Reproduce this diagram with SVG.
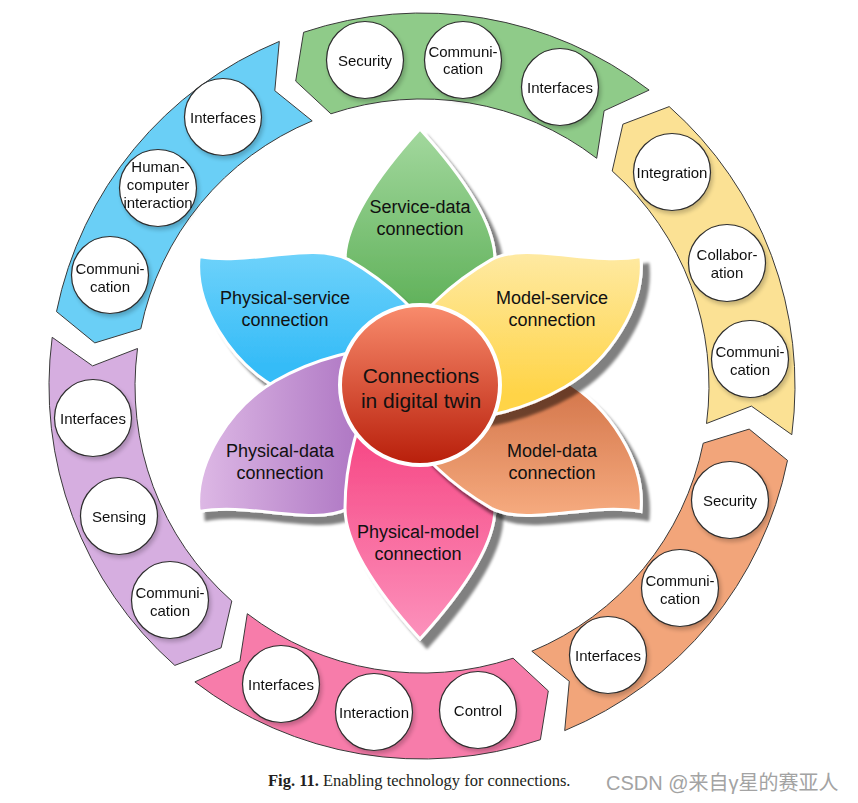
<svg xmlns="http://www.w3.org/2000/svg" width="858" height="803" viewBox="0 0 858 803">
<defs>
<style>
.seg{stroke:#3a3a3a;stroke-width:1}
.bub{fill:#fff;stroke:#2e2e2e;stroke-width:1.2}
.bt{font-family:"Liberation Sans",Arial,sans-serif;font-size:15px;fill:#111;text-anchor:middle}
.pt{font-family:"Liberation Sans",Arial,sans-serif;font-size:18px;fill:#111;text-anchor:middle}
.petal{stroke:#fff;stroke-width:3}
</style>
<path id="leaf" d="M255,0 C222,30 168,75 124,75 C80,75 30,62 0,40 L0,-40 C30,-62 80,-75 124,-75 C168,-75 222,-30 255,0 Z"/>
<path id="leafA" d="M255,0 C235,45 175,75 124,75 C80,75 30,62 0,40 L0,-40 C30,-62 80,-72 124,-72 C165,-70 205,-18 255,0 Z"/>
<path id="leafB" d="M255,0 C235,-45 175,-75 124,-75 C80,-75 30,-62 0,-40 L0,40 C30,62 80,72 124,72 C165,70 205,18 255,0 Z"/>
<filter id="pshadow" x="-30%" y="-30%" width="160%" height="160%">
<feGaussianBlur in="SourceAlpha" stdDeviation="1.5"/>
<feOffset dx="7" dy="8"/>
<feComponentTransfer><feFuncA type="linear" slope="0.5"/></feComponentTransfer>
<feMerge><feMergeNode/><feMergeNode in="SourceGraphic"/></feMerge>
</filter>
<filter id="bshadow" x="-30%" y="-30%" width="160%" height="160%">
<feGaussianBlur in="SourceAlpha" stdDeviation="2"/>
<feOffset dx="2" dy="3"/>
<feComponentTransfer><feFuncA type="linear" slope="0.22"/></feComponentTransfer>
<feMerge><feMergeNode/><feMergeNode in="SourceGraphic"/></feMerge>
</filter>
<linearGradient id="gGreen" gradientUnits="userSpaceOnUse" gradientTransform="rotate(90)" x1="0" y1="-255" x2="0" y2="-60"><stop offset="0" stop-color="#A3D89E"/><stop offset="1" stop-color="#5AAE54"/></linearGradient>
<linearGradient id="gBlue" gradientUnits="userSpaceOnUse" gradientTransform="rotate(150)" x1="0" y1="-170" x2="0" y2="-20"><stop offset="0" stop-color="#82DAFC"/><stop offset="1" stop-color="#36BCF7"/></linearGradient>
<linearGradient id="gYellow" gradientUnits="userSpaceOnUse" gradientTransform="rotate(30)" x1="0" y1="-160" x2="0" y2="10"><stop offset="0" stop-color="#FEEEB5"/><stop offset="1" stop-color="#FFD447"/></linearGradient>
<linearGradient id="gOrange" gradientUnits="userSpaceOnUse" gradientTransform="rotate(-30)" x1="0" y1="0" x2="0" y2="140"><stop offset="0" stop-color="#D3754A"/><stop offset="1" stop-color="#F8AE82"/></linearGradient>
<linearGradient id="gPink" gradientUnits="userSpaceOnUse" gradientTransform="rotate(-90)" x1="0" y1="10" x2="0" y2="255"><stop offset="0" stop-color="#F5397A"/><stop offset="1" stop-color="#FC92BC"/></linearGradient>
<linearGradient id="gPurple" gradientUnits="userSpaceOnUse" gradientTransform="rotate(-150)" x1="-230" y1="0" x2="-40" y2="0"><stop offset="0" stop-color="#E0BCE7"/><stop offset="1" stop-color="#A86EBF"/></linearGradient>
<linearGradient id="gCenter" x1="0" y1="0" x2="0" y2="1"><stop offset="0" stop-color="#F98C6D"/><stop offset="1" stop-color="#B81E0A"/></linearGradient>
</defs>
<rect width="858" height="803" fill="#fff"/>

<!-- outer ring segments -->
<g id="seg-service-data">
<path class="seg" fill="#8FCB89" d="M649.1,90.1 A373,373 0 0 0 303.6,32.3 L295.7,81.1 L330.9,113.8 A287,287 0 0 1 596.7,158.3 L604.1,110.8 Z"/>
</g>
<g id="seg-model-service">
<path class="seg" fill="#FBE194" d="M791.8,434.7 A373,373 0 0 0 669.2,106.6 L622.9,124.2 L612.2,171.0 A287,287 0 0 1 706.5,423.5 L751.4,406.1 Z"/>
</g>
<g id="seg-model-data">
<path class="seg" fill="#F2A57A" d="M564.7,730.6 A373,373 0 0 0 787.5,460.4 L749.2,429.1 L703.2,443.2 A287,287 0 0 1 531.8,651.2 L569.3,681.3 Z"/>
</g>
<g id="seg-physical-model">
<path class="seg" fill="#F77CAA" d="M194.9,681.9 A373,373 0 0 0 540.4,739.7 L548.3,690.9 L513.1,658.2 A287,287 0 0 1 247.3,613.7 L239.9,661.2 Z"/>
</g>
<g id="seg-physical-data">
<path class="seg" fill="#D6AEE0" d="M52.2,337.3 A373,373 0 0 0 174.8,665.4 L221.1,647.8 L231.8,601.0 A287,287 0 0 1 137.5,348.5 L92.6,365.9 Z"/>
</g>
<g id="seg-physical-service">
<path class="seg" fill="#6ACFF6" d="M279.3,41.4 A373,373 0 0 0 56.5,311.6 L94.8,342.9 L140.8,328.8 A287,287 0 0 1 312.2,120.9 L274.8,90.7 Z"/>
</g>

<!-- technology bubbles -->
<g id="b-sd-security" filter="url(#bshadow)"><circle class="bub" cx="365" cy="60" r="38.5"/><text class="bt" x="365" y="66">Security</text></g>
<g id="b-sd-communication" filter="url(#bshadow)"><circle class="bub" cx="463" cy="60" r="38.5"/><text class="bt" x="463" y="57">Communi-</text><text class="bt" x="463" y="74">cation</text></g>
<g id="b-sd-interfaces" filter="url(#bshadow)"><circle class="bub" cx="560" cy="87" r="38.5"/><text class="bt" x="560" y="92.5">Interfaces</text></g>

<g id="b-ms-integration" filter="url(#bshadow)"><circle class="bub" cx="672" cy="172" r="38.5"/><text class="bt" x="672" y="177.5">Integration</text></g>
<g id="b-ms-collaboration" filter="url(#bshadow)"><circle class="bub" cx="727" cy="263" r="38.5"/><text class="bt" x="727" y="260">Collabor-</text><text class="bt" x="727" y="278">ation</text></g>
<g id="b-ms-communication" filter="url(#bshadow)"><circle class="bub" cx="750" cy="359" r="38.5"/><text class="bt" x="750" y="357">Communi-</text><text class="bt" x="750" y="375">cation</text></g>

<g id="b-md-security" filter="url(#bshadow)"><circle class="bub" cx="730" cy="500" r="38.5"/><text class="bt" x="730" y="505.5">Security</text></g>
<g id="b-md-communication" filter="url(#bshadow)"><circle class="bub" cx="680" cy="588" r="38.5"/><text class="bt" x="680" y="586">Communi-</text><text class="bt" x="680" y="604">cation</text></g>
<g id="b-md-interfaces" filter="url(#bshadow)"><circle class="bub" cx="608" cy="655" r="38.5"/><text class="bt" x="608" y="660.5">Interfaces</text></g>

<g id="b-pm-interfaces" filter="url(#bshadow)"><circle class="bub" cx="281" cy="684" r="38.5"/><text class="bt" x="281" y="689.5">Interfaces</text></g>
<g id="b-pm-interaction" filter="url(#bshadow)"><circle class="bub" cx="374" cy="712" r="38.5"/><text class="bt" x="374" y="717.5">Interaction</text></g>
<g id="b-pm-control" filter="url(#bshadow)"><circle class="bub" cx="478" cy="710" r="38.5"/><text class="bt" x="478" y="715.5">Control</text></g>

<g id="b-pd-interfaces" filter="url(#bshadow)"><circle class="bub" cx="93" cy="418" r="38.5"/><text class="bt" x="93" y="423.5">Interfaces</text></g>
<g id="b-pd-sensing" filter="url(#bshadow)"><circle class="bub" cx="119" cy="516" r="38.5"/><text class="bt" x="119" y="521.5">Sensing</text></g>
<g id="b-pd-communication" filter="url(#bshadow)"><circle class="bub" cx="170" cy="600" r="38.5"/><text class="bt" x="170" y="598">Communi-</text><text class="bt" x="170" y="616">cation</text></g>

<g id="b-ps-interfaces" filter="url(#bshadow)"><circle class="bub" cx="223" cy="117" r="38.5"/><text class="bt" x="223" y="122.5">Interfaces</text></g>
<g id="b-ps-hci" filter="url(#bshadow)"><circle class="bub" cx="158" cy="188" r="38.5"/><text class="bt" x="158" y="172">Human-</text><text class="bt" x="158" y="190">computer</text><text class="bt" x="158" y="208">interaction</text></g>
<g id="b-ps-communication" filter="url(#bshadow)"><circle class="bub" cx="110" cy="275" r="38.5"/><text class="bt" x="110" y="274">Communi-</text><text class="bt" x="110" y="292">cation</text></g>

<!-- petals -->
<g id="petal-service-data">
<g filter="url(#pshadow)"><use href="#leaf" class="petal" fill="url(#gGreen)" transform="translate(420,384) rotate(-90)"/></g>
<text class="pt" x="420" y="213">Service-data</text><text class="pt" x="420" y="235">connection</text>
</g>
<g id="petal-physical-service">
<g filter="url(#pshadow)"><use href="#leafB" class="petal" fill="url(#gBlue)" transform="translate(420,384) rotate(-150)"/></g>
<text class="pt" x="285" y="304">Physical-service</text><text class="pt" x="285" y="326">connection</text>
</g>
<g id="petal-physical-data">
<g filter="url(#pshadow)"><use href="#leafA" class="petal" fill="url(#gPurple)" transform="translate(420,384) rotate(150)"/></g>
<text class="pt" x="280" y="457">Physical-data</text><text class="pt" x="280" y="479">connection</text>
</g>
<g id="petal-physical-model">
<g filter="url(#pshadow)"><use href="#leaf" class="petal" fill="url(#gPink)" transform="translate(420,384) rotate(90)"/></g>
<text class="pt" x="418" y="538">Physical-model</text><text class="pt" x="418" y="560">connection</text>
</g>
<g id="petal-model-data">
<g filter="url(#pshadow)"><use href="#leafB" class="petal" fill="url(#gOrange)" transform="translate(420,384) rotate(30)"/></g>
<text class="pt" x="552" y="457">Model-data</text><text class="pt" x="552" y="479">connection</text>
</g>
<g id="petal-model-service">
<g filter="url(#pshadow)"><use href="#leafA" class="petal" fill="url(#gYellow)" transform="translate(420,384) rotate(-30)"/></g>
<text class="pt" x="552" y="304">Model-service</text><text class="pt" x="552" y="326">connection</text>
</g>

<g id="center">
<circle cx="420" cy="385" r="80" fill="url(#gCenter)" stroke="#fff" stroke-width="4"/>
<text x="421" y="383" font-family="Liberation Sans, Arial, sans-serif" font-size="21" fill="#111" text-anchor="middle">Connections</text>
<text x="421" y="408" font-family="Liberation Sans, Arial, sans-serif" font-size="21" fill="#111" text-anchor="middle">in digital twin</text>
</g>

<g id="connectors"/>

<text x="268" y="786" font-family="Liberation Serif, Times New Roman, serif" font-size="16.5" fill="#231f20"><tspan font-weight="bold">Fig. 11.</tspan> Enabling technology for connections.</text>
<text x="606" y="790" font-family="Liberation Sans, Noto Sans CJK SC, sans-serif" font-size="20" fill="#a3a3a3">CSDN @来自γ星的赛亚人</text>
</svg>
